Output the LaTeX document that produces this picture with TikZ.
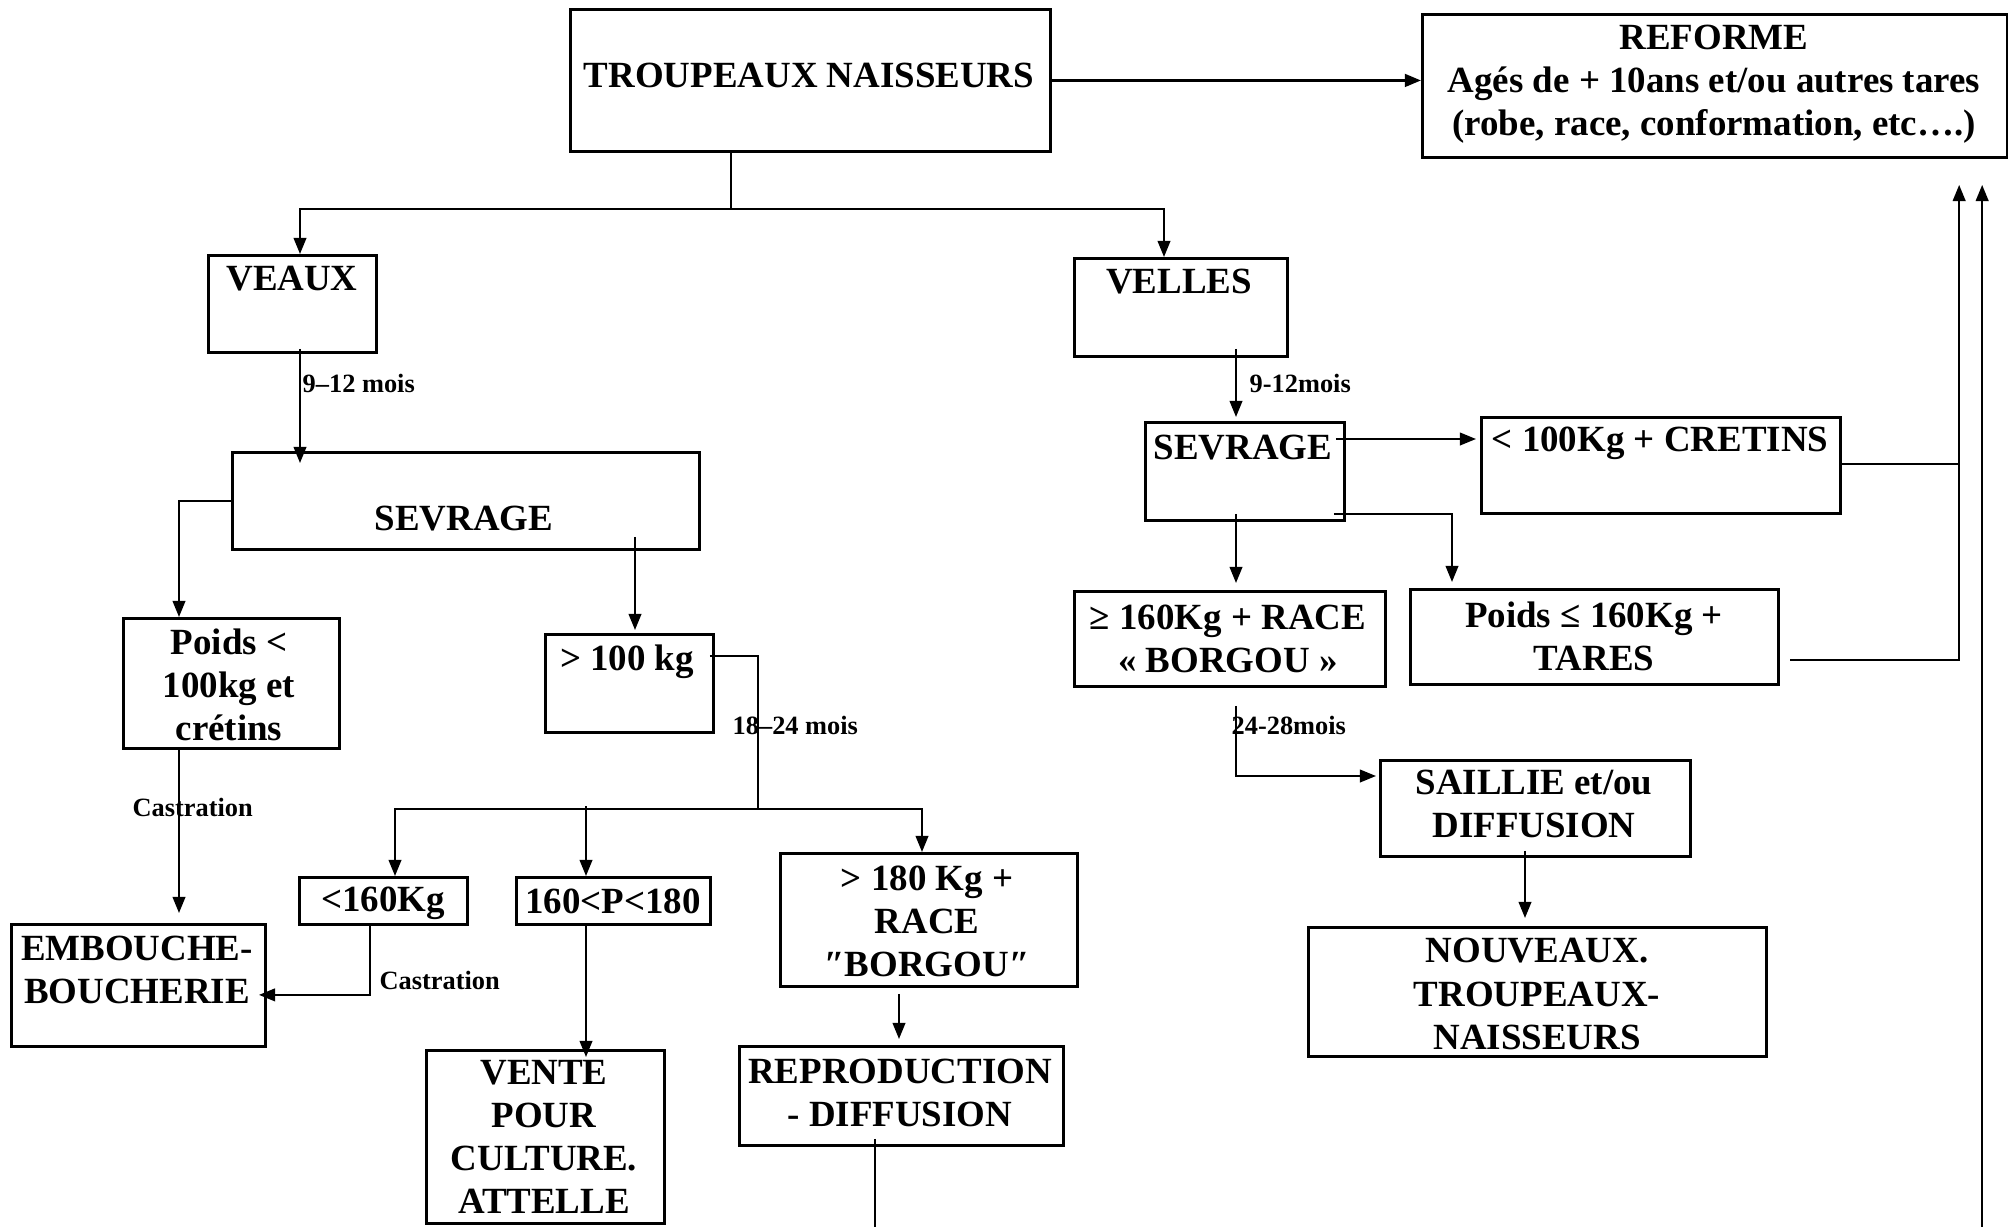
\documentclass[tikz,border=0pt]{standalone}
\usepackage{fontspec}
\setmainfont{Liberation Serif}
\usepackage{tikz}
\usetikzlibrary{arrows.meta,calc}
\newcommand{\boxfont}{\fontsize{10.5}{12.25}\selectfont\bfseries}
\newcommand{\notefont}{\fontsize{7.5}{9}\selectfont\bfseries}
\tikzset{
    box/.style={draw, line width=0.8pt, anchor=north west, inner sep=0pt},
    boxtext/.style={font=\boxfont, align=center, inner sep=0pt},
    durlabel/.style={font=\notefont, anchor=west, inner sep=0pt},
    link/.style={line width=0.6pt},
    arr/.style={link, -{Triangle[length=4.6pt,width=3.6pt]}}
}

\begin{document}
\begin{tikzpicture}[x=0.01cm, y=-0.01cm]
    \useasboundingbox (0,0) rectangle (2008,1227);

    % boxes
    \node[box, minimum width=4.80cm, minimum height=1.42cm] (troupeaux) at (569,8) {};
    \node[box, minimum width=5.85cm, minimum height=1.43cm] (reforme) at (1421,13) {};
    \node[box, minimum width=1.68cm, minimum height=0.97cm] (veaux) at (207,254) {};
    \node[box, minimum width=2.13cm, minimum height=0.98cm] (velles) at (1073,257) {};
    \node[box, minimum width=4.67cm, minimum height=0.97cm] (sevL) at (231,451) {};
    \node[box, minimum width=1.99cm, minimum height=0.98cm] (sevR) at (1144,421) {};
    \node[box, minimum width=3.59cm, minimum height=0.96cm] (cretins) at (1480,416) {};
    \node[box, minimum width=2.16cm, minimum height=1.30cm] (poids) at (122,617) {};
    \node[box, minimum width=1.68cm, minimum height=0.98cm] (plus100) at (544,633) {};
    \node[box, minimum width=3.11cm, minimum height=0.95cm] (borgou) at (1073,590) {};
    \node[box, minimum width=3.68cm, minimum height=0.95cm] (tares) at (1409,588) {};
    \node[box, minimum width=3.10cm, minimum height=0.96cm] (saillie) at (1379,759) {};
    \node[box, minimum width=4.58cm, minimum height=1.29cm] (nouveaux) at (1307,926) {};
    \node[box, minimum width=1.68cm, minimum height=0.47cm] (moins160) at (298,876) {};
    \node[box, minimum width=1.94cm, minimum height=0.47cm] (entre) at (515,876) {};
    \node[box, minimum width=2.97cm, minimum height=1.33cm] (plus180) at (779,852) {};
    \node[box, minimum width=2.54cm, minimum height=1.22cm] (embouche) at (10,923) {};
    \node[box, minimum width=2.38cm, minimum height=1.73cm] (vente) at (425,1049) {};
    \node[box, minimum width=3.24cm, minimum height=0.99cm] (repro) at (738,1045) {};

    % box texts
    \node[boxtext] (troupeaux-t) at (809,75) {TROUPEAUX NAISSEURS};
    \node[boxtext] (reforme-t) at (1714,84) {REFORME\\Agés de + 10ans et/ou autres tares\\(robe, race, conformation, etc….)};
    \node[boxtext] (veaux-t) at (292,279) {VEAUX};
    \node[boxtext] (velles-t) at (1179,282) {VELLES};
    \node[boxtext] (sevL-t) at (464,519) {SEVRAGE};
    \node[boxtext] (sevR-t) at (1243,448) {SEVRAGE};
    \node[boxtext] (cretins-t) at (1660,443) {< 100Kg + CRETINS};
    \node[boxtext] (poids-t) at (229,685) {Poids <\\100kg et\\crétins};
    \node[boxtext] (plus100-t) at (627,662) {> 100 kg};
    \node[boxtext] (borgou-t) at (1228,639) {≥ 160Kg + RACE\\« BORGOU »};
    \node[boxtext] (tares-t) at (1594,636) {Poids ≤ 160Kg +\\TARES};
    \node[boxtext] (saillie-t) at (1534,804) {SAILLIE et/ou\\DIFFUSION};
    \node[boxtext] (nouveaux-t) at (1537,994) {NOUVEAUX.\\TROUPEAUX-\\NAISSEURS};
    \node[boxtext] (moins160-t) at (383,903) {<160Kg};
    \node[boxtext] (entre-t) at (613,901) {160<P<180};
    \node[boxtext] (plus180-t) at (927,921) {> 180 Kg +\\RACE\\″BORGOU″};
    \node[boxtext] (embouche-t) at (137,970) {EMBOUCHE-\\BOUCHERIE};
    \node[boxtext] (vente-t) at (544,1137) {VENTE\\POUR\\CULTURE.\\ATTELLE};
    \node[boxtext] (repro-t) at (900,1093) {REPRODUCTION\\- DIFFUSION};

    % durations
    \node[durlabel] (d-veaux) at (302,383) {9–12 mois};
    \node[durlabel] (d-velles) at (1249,383) {9-12mois};
    \node[durlabel] (d-plus100) at (732,725) {18–24 mois};
    \node[durlabel] (d-borgou) at (1231,725) {24-28mois};
    \node[durlabel] (c-poids) at (132,807) {Castration};
    \node[durlabel] (c-moins160) at (379,980) {Castration};

    \coordinate (fork1) at ($(troupeaux.south west)+(162,56)$);
    \coordinate (fork2) at ($(plus100.south east)+(43,75)$);
    \coordinate (upA) at ($(reforme.south east)+(-50,26)$);
    \coordinate (upB) at ($(reforme.south east)+(-27,26)$);
    \coordinate (exitA) at ($(repro.south west)+(137,83)$);
    \coordinate (exitB) at (upB |- exitA);

    \draw[arr, line width=0.8pt] (troupeaux.east) -- (troupeaux.east -| reforme.west);
    \draw[link] (troupeaux.south -| fork1) -- (fork1);
    \draw[arr] (fork1) -| ($(veaux.north west)+(93,0)$);
    \draw[arr] (fork1) -| ($(velles.north west)+(91,0)$);

    % veaux
    \draw[arr] ($(veaux.south west)+(93,-5)$) -- ($(sevL.north west)+(69,12)$);
    \draw[arr] (sevL.west) -| ($(poids.north west)+(57,0)$);
    \draw[arr] ($(sevL.south west)+(404,-14)$) -- ($(plus100.north west)+(91,-3)$);
    \draw[link] ($(plus100.north east)+(-5,23)$) -| (fork2);
    \draw[arr] (fork2) -| ($(moins160.north west)+(97,0)$);
    \draw[arr] (fork2) -| ($(plus180.north west)+(143,0)$);
    \draw[arr] ($(entre.north west)+(71,-70)$) -- ($(entre.north west)+(71,0)$);
    \draw[arr] ($(poids.south west)+(57,0)$) -- ($(embouche.north west)+(169,-10)$);
    \draw[arr] ($(moins160.south west)+(72,0)$) |- ($(embouche.south east)+(-8,-53)$);
    \draw[arr] ($(entre.south west)+(71,0)$) -- ($(vente.north west)+(161,8)$);
    \draw[arr] ($(plus180.south west)+(120,6)$) -- ($(repro.north west)+(161,-6)$);
    \draw[link] ($(repro.south west)+(137,-8)$) -- (exitA);

    % velles
    \draw[arr] ($(velles.south west)+(163,-9)$) -- ($(sevR.north west)+(92,-4)$);
    \draw[arr] ($(sevR.north east)+(-10,18)$) -- ($(cretins.north west)+(-4,23)$);
    \draw[arr] ($(sevR.south west)+(92,-8)$) -- ($(borgou.north west)+(163,-7)$);
    \draw[arr] ($(sevR.south east)+(-12,-8)$) -| ($(tares.north west)+(43,-6)$);
    \draw[arr] ($(borgou.south west)+(163,18)$) |- ($(saillie.north west)+(-3,17)$);
    \draw[arr] ($(saillie.south west)+(146,-7)$) -- ($(nouveaux.north west)+(218,-8)$);

    % reforme
    \draw[link] ($(cretins.east)+(-3,-1)$) -- ($(cretins.east -| upA)+(0,-1)$);
    \draw[arr] ($(tares.south east)+(10,-26)$) -| (upA);
    \draw[arr] (exitB) -- (upB);
\end{tikzpicture}
\end{document}
